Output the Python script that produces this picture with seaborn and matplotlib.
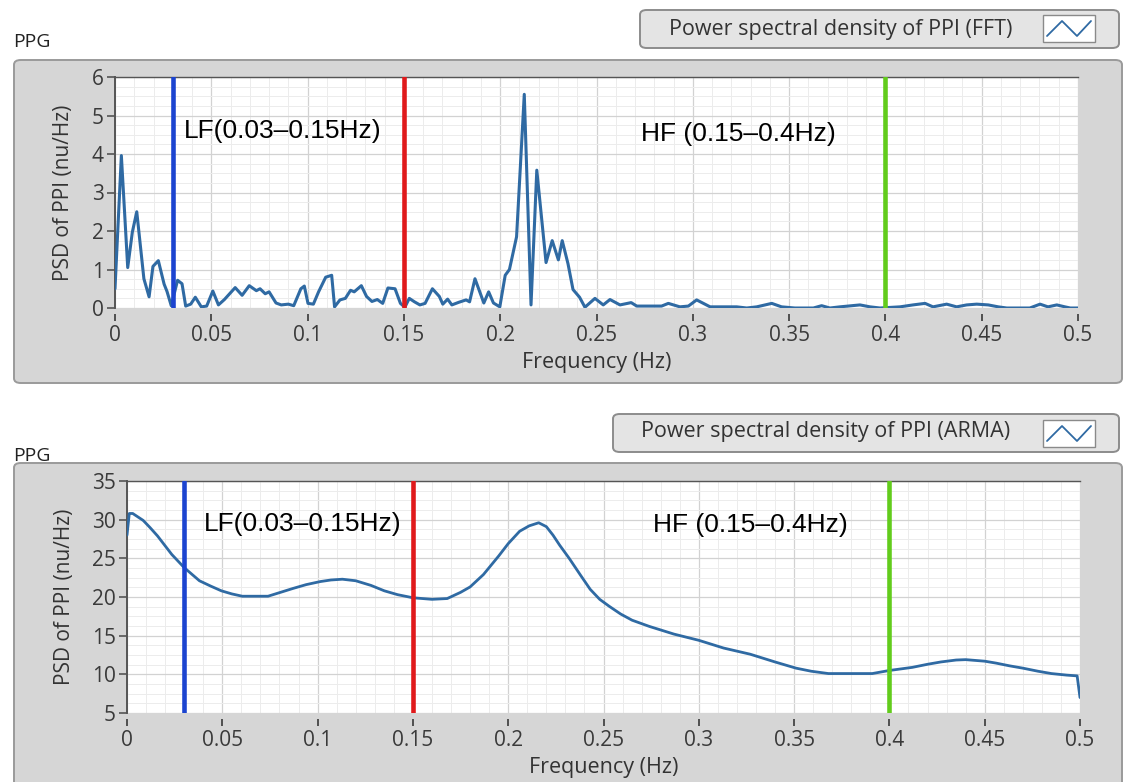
import numpy as np
import pandas as pd
import matplotlib
matplotlib.use("Agg")
import matplotlib.pyplot as plt
import seaborn as sns
from matplotlib.patches import FancyBboxPatch, Rectangle
from matplotlib.lines import Line2D
from matplotlib.ticker import AutoMinorLocator

sns.set_theme(style="white")
plt.rcParams["font.family"] = ["Open Sans", "DejaVu Sans"]

# FFT spectrum (vertices)
fft_freq = [0.0, 0.0033, 0.0066, 0.0090, 0.0113, 0.0150, 0.0177, 0.0197, 0.0225, 0.0255,
            0.0270, 0.0292, 0.0325, 0.0348, 0.0367, 0.0393, 0.0417, 0.0448, 0.0476, 0.0508,
            0.0537, 0.0568, 0.0624, 0.0660, 0.0697, 0.0734, 0.0753, 0.0780, 0.0800, 0.0836,
            0.0863, 0.0900, 0.0928, 0.0965, 0.0983, 0.1002, 0.1030, 0.1057, 0.1094, 0.1125,
            0.1140, 0.1168, 0.1196, 0.1223, 0.1242, 0.1279, 0.1306, 0.1334, 0.1362, 0.1390,
            0.1417, 0.1454, 0.1482, 0.1505, 0.1528, 0.1555, 0.1583, 0.1610, 0.1648, 0.1684,
            0.1702, 0.1727, 0.1749, 0.1786, 0.1823, 0.1841, 0.1869, 0.1897, 0.1915, 0.1940,
            0.1965, 0.1998, 0.2026, 0.2048, 0.2085, 0.2125, 0.2160, 0.2190, 0.2238, 0.2270,
            0.2302, 0.2322, 0.2352, 0.2378, 0.2412, 0.2440, 0.2492, 0.2535, 0.2570, 0.2622,
            0.2680, 0.2709, 0.2838, 0.2873, 0.2933, 0.2977, 0.3020, 0.3090, 0.3228, 0.3280,
            0.3332, 0.3410, 0.3461, 0.3530, 0.3626, 0.3669, 0.3712, 0.3764, 0.3868, 0.3920,
            0.3972, 0.4076, 0.4143, 0.4206, 0.4247, 0.4318, 0.4370, 0.4422, 0.4474, 0.4534,
            0.4586, 0.4630, 0.4750, 0.4803, 0.4844, 0.4890, 0.4932, 0.4960, 0.5000]
fft_psd = [0.50, 3.96, 1.05, 1.97, 2.50, 0.76, 0.29, 1.08, 1.23, 0.62,
           0.43, 0.06, 0.72, 0.63, 0.05, 0.10, 0.28, 0.03, 0.05, 0.44,
           0.08, 0.22, 0.53, 0.33, 0.58, 0.45, 0.50, 0.37, 0.42, 0.13,
           0.08, 0.10, 0.06, 0.50, 0.57, 0.12, 0.10, 0.42, 0.80, 0.85,
           0.03, 0.21, 0.25, 0.46, 0.42, 0.58, 0.30, 0.17, 0.22, 0.12,
           0.52, 0.50, 0.12, 0.02, 0.25, 0.16, 0.08, 0.12, 0.50, 0.30,
           0.10, 0.23, 0.08, 0.15, 0.21, 0.16, 0.76, 0.38, 0.13, 0.42,
           0.13, 0.03, 0.85, 1.00, 1.85, 5.55, 0.08, 3.58, 1.18, 1.75,
           1.25, 1.75, 1.15, 0.48, 0.28, 0.02, 0.25, 0.08, 0.22, 0.08,
           0.14, 0.05, 0.05, 0.12, 0.03, 0.05, 0.21, 0.03, 0.03, 0.00,
           0.03, 0.12, 0.03, 0.00, 0.00, 0.06, 0.00, 0.03, 0.08, 0.03,
           0.00, 0.03, 0.08, 0.12, 0.03, 0.10, 0.03, 0.08, 0.10, 0.08,
           0.03, 0.00, 0.00, 0.10, 0.03, 0.08, 0.03, 0.00, 0.00]

# ARMA spectrum
arma_freq = [0.0, 0.0012, 0.0030, 0.0085, 0.0120, 0.0160, 0.0235, 0.0300, 0.0380, 0.0440,
             0.0495, 0.0550, 0.0605, 0.0740, 0.0870, 0.0940, 0.1015, 0.1070, 0.1130, 0.1200,
             0.1280, 0.1350, 0.1420, 0.1500, 0.1600, 0.1680, 0.1750, 0.1800, 0.1870, 0.1950,
             0.2000, 0.2060, 0.2110, 0.2160, 0.2200, 0.2235, 0.2270, 0.2320, 0.2380, 0.2430,
             0.2480, 0.2530, 0.2590, 0.2650, 0.2740, 0.2870, 0.3000, 0.3130, 0.3270, 0.3400,
             0.3510, 0.3590, 0.3680, 0.3910, 0.4000, 0.4120, 0.4200, 0.4270, 0.4350, 0.4400,
             0.4500, 0.4560, 0.4630, 0.4700, 0.4780, 0.4850, 0.4930, 0.4985, 0.5000]
arma_psd = [28.0, 30.8, 30.8, 29.9, 29.0, 27.9, 25.5, 23.8, 22.1, 21.4,
            20.8, 20.4, 20.1, 20.1, 21.1, 21.6, 22.0, 22.2, 22.3, 22.1,
            21.5, 20.8, 20.3, 19.9, 19.7, 19.8, 20.6, 21.3, 22.9, 25.3,
            26.9, 28.5, 29.2, 29.6, 29.1, 28.0, 26.7, 25.0, 22.8, 21.0,
            19.7, 18.8, 17.8, 17.0, 16.2, 15.2, 14.4, 13.4, 12.6, 11.6,
            10.8, 10.4, 10.1, 10.1, 10.5, 10.9, 11.3, 11.6, 11.85, 11.9,
            11.7, 11.45, 11.1, 10.8, 10.4, 10.1, 9.9, 9.8, 7.0]

x_ticks = [0, 0.05, 0.1, 0.15, 0.2, 0.25, 0.3, 0.35, 0.4, 0.45, 0.5]
x_tick_labels = ["0", "0.05", "0.1", "0.15", "0.2", "0.25", "0.3", "0.35", "0.4", "0.45", "0.5"]
fft_y_ticks = [0, 1, 2, 3, 4, 5, 6]
arma_y_ticks = [5, 10, 15, 20, 25, 30, 35]

band_edges = [0.03, 0.15, 0.4]
band_colors = ["#1c44d0", "#e01a1c", "#62cc1c"]
lf_label = "LF(0.03\u20130.15Hz)"
hf_label = "HF (0.15\u20130.4Hz)"
line_color = "#2f6aa3"
tick_color = "#3a3a3a"

W, H = 1127, 782
fig = plt.figure(figsize=(W / 100, H / 100), dpi=100, facecolor="white")


def fx(px):
    return px / W


def fy(py):
    return 1 - py / H


def panel(x0, y0, x1, y1, face, edge, z=-2):
    p = FancyBboxPatch((fx(x0), fy(y1)), fx(x1) - fx(x0), fy(y0) - fy(y1),
                       boxstyle="round,pad=0,rounding_size=0.006",
                       transform=fig.transFigure, facecolor=face, edgecolor=edge,
                       lw=1.4, zorder=z)
    fig.patches.append(p)


def legend_box(x0, y0, x1, y1, text, tx, ty, icon_y):
    panel(x0, y0, x1, y1, "#e4e4e4", "#8c8c8c", z=-1)
    fig.text(fx(tx), fy(ty), text, ha="center", va="center", fontsize=15.5,
             color="#333333", zorder=2)
    r = Rectangle((fx(1043), fy(icon_y + 27)), fx(52), 27 / H, transform=fig.transFigure,
                  facecolor="white", edgecolor="#8a8a8a", lw=1, zorder=2)
    fig.patches.append(r)
    zz = Line2D([fx(1047), fx(1062), fx(1077), fx(1091)],
                [fy(icon_y + 21), fy(icon_y + 6), fy(icon_y + 21), fy(icon_y + 6)],
                transform=fig.transFigure, color=line_color, lw=1.3, zorder=3)
    fig.lines.append(zz)


# gray LabVIEW-like frames
panel(14, 60, 1122, 383, "#d6d6d6", "#9a9a9a")
panel(14, 463, 1122, 800, "#d6d6d6", "#9a9a9a")
legend_box(640, 10, 1119, 48, "Power spectral density of PPI (FFT)", 841, 29, 15)
legend_box(613, 414, 1119, 452, "Power spectral density of PPI (ARMA)", 826, 432, 420)
fig.text(fx(13), fy(42), "PPG", ha="left", va="center", fontsize=14, color="#222222")
fig.text(fx(13), fy(456), "PPG", ha="left", va="center", fontsize=14, color="#222222")

ax1 = fig.add_axes([fx(115), fy(308), fx(1078) - fx(115), fy(77) - fy(308)])
ax2 = fig.add_axes([fx(127), fy(713), fx(1080) - fx(127), fy(481) - fy(713)])
ax1.set_zorder(5)
ax2.set_zorder(5)

fft_df = pd.DataFrame({"Frequency": fft_freq, "PSD": fft_psd})
arma_df = pd.DataFrame({"Frequency": arma_freq, "PSD": arma_psd})

sns.lineplot(data=fft_df, x="Frequency", y="PSD", ax=ax1, color=line_color, lw=2.2,
             estimator=None, sort=False, zorder=3)
sns.lineplot(data=arma_df, x="Frequency", y="PSD", ax=ax2, color=line_color, lw=2,
             estimator=None, sort=False, zorder=3)


def style_axis(ax, ylim, yticks, ylab_x):
    ax.set_facecolor("white")
    ax.set_xlim(0, 0.5)
    ax.set_ylim(*ylim)
    ax.set_xticks(x_ticks)
    ax.set_xticklabels(x_tick_labels)
    ax.set_yticks(yticks)
    ax.xaxis.set_minor_locator(AutoMinorLocator(5))
    ax.yaxis.set_minor_locator(AutoMinorLocator(4))
    ax.grid(True, which="major", color="#d2d2d2", lw=0.9, zorder=0)
    ax.grid(True, which="minor", color="#ececec", lw=0.7, zorder=0)
    ax.set_axisbelow(True)
    ax.spines["right"].set_visible(False)
    ax.spines["top"].set_color("#555555")
    ax.spines["top"].set_linewidth(1.0)
    ax.spines["left"].set_color("#555555")
    ax.spines["left"].set_linewidth(1.4)
    ax.spines["bottom"].set_position(("outward", 4))
    ax.spines["bottom"].set_color("none")
    ax.tick_params(axis="x", which="major", direction="out", length=5, width=1.3,
                   color="#444444", pad=3, labelsize=15, labelcolor=tick_color,
                   bottom=True)
    ax.tick_params(axis="y", which="major", direction="out", length=6, width=1.2,
                   color="#555555", pad=2, labelsize=15, labelcolor=tick_color,
                   left=True)
    ax.tick_params(which="minor", length=0)
    ax.set_xlabel("Frequency (Hz)", fontsize=15.5, color="#333333")
    ax.set_ylabel("PSD of PPI (nu/Hz)", fontsize=15, color="#333333")
    ax.xaxis.set_label_coords(0.5, -0.19)
    ax.yaxis.set_label_coords(ylab_x, 0.5)
    for xe, c in zip(band_edges, band_colors):
        ax.axvline(xe, color=c, lw=3.3, zorder=4)


style_axis(ax1, (0, 6), fft_y_ticks, -0.043)
style_axis(ax2, (5, 35), arma_y_ticks, -0.055)

ax1.text(0.0358, 4.6, lf_label, ha="left", va="center", fontsize=19,
         family="Liberation Sans", color="black", zorder=5)
ax1.text(0.273, 4.52, hf_label, ha="left", va="center", fontsize=19,
         family="Liberation Sans", color="black", zorder=5)
ax2.text(0.0404, 29.4, lf_label, ha="left", va="center", fontsize=19,
         family="Liberation Sans", color="black", zorder=5)
ax2.text(0.276, 29.3, hf_label, ha="left", va="center", fontsize=19,
         family="Liberation Sans", color="black", zorder=5)

fig.savefig("out.png", dpi=100)
